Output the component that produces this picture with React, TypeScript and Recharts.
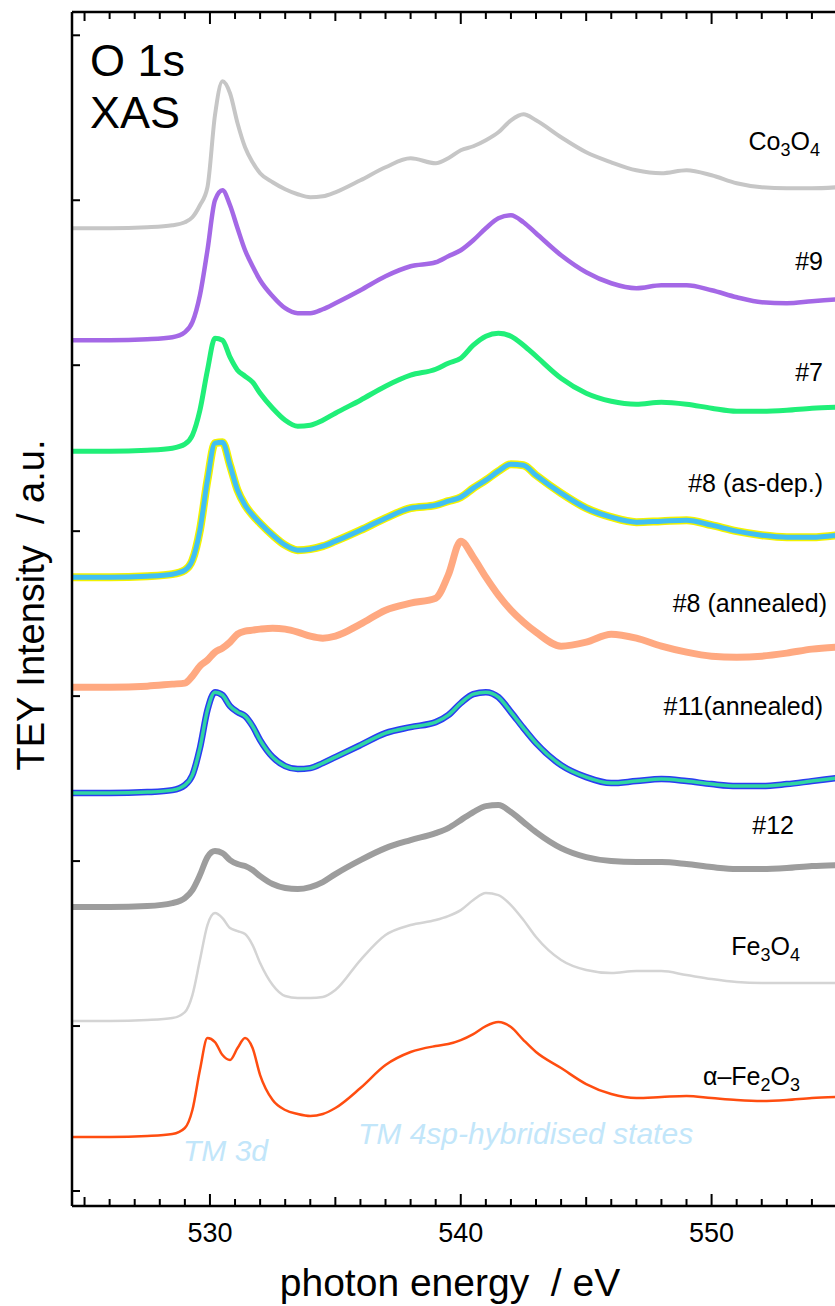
import React from "react";
import { LineChart, Line, XAxis, YAxis } from "recharts";

const FONT = "'Liberation Sans', Arial, sans-serif";

// photon energy grid (eV)
const energy = [
  524.5, 526, 527.5, 528.5, 529, 529.3, 529.6, 529.9, 530.2, 530.5,
  530.8, 531.1, 531.4, 531.7, 532, 532.5, 533, 533.5, 534, 534.5,
  535, 536, 537, 538, 539, 539.5, 540, 540.5, 541, 541.5,
  542, 542.5, 543, 544, 545, 546, 547, 548, 549, 550,
  551, 552, 553, 554, 555,
];

// TEY intensity above pre-edge (a.u.)
const co3o4 = [0, 0, 1, 3, 6, 11, 23, 41, 113, 147, 135, 105, 81, 66, 55, 46, 39, 34, 31, 32, 36, 48, 61, 70, 65, 70, 78, 82, 88, 96, 108, 114, 108, 91, 76, 66, 58, 55, 58, 53, 45, 41, 40, 40, 41];
const s9 = [0, 0, 1, 3, 8, 18, 45, 90, 140, 150, 135, 112, 90, 74, 60, 44, 32, 27, 27, 31, 37, 50, 64, 74, 78, 84, 90, 100, 112, 122, 125, 118, 107, 85, 68, 57, 52, 55, 55, 50, 43, 38, 37, 39, 41];
const s7 = [0, 0, 1, 3, 7, 16, 41, 81, 113, 111, 94, 81, 75, 69, 58, 43, 31, 25, 26, 31, 38, 51, 65, 76, 82, 88, 93, 106, 115, 118, 115, 106, 95, 73, 58, 50, 47, 49, 47, 43, 40, 40, 41, 43, 44];
const s8asdep = [0, 0, 1, 3, 7, 17, 47, 97, 134, 135, 112, 87, 72, 62, 54, 42, 32, 27, 28, 31, 36, 47, 59, 69, 72, 76, 80, 89, 97, 106, 113, 112, 102, 84, 69, 60, 55, 56, 57, 52, 46, 42, 40, 40, 42];
const s8ann = [0, 0, 1, 3, 4, 11, 21, 27, 35, 39, 45, 53, 56, 57, 58, 59, 58, 55, 51, 49, 51, 63, 77, 84, 89, 112, 146, 130, 110, 92, 77, 65, 55, 41, 45, 53, 49, 41, 35, 31, 30, 31, 34, 38, 40];
const s11 = [0, 0, 1, 3, 8, 18, 45, 83, 101, 98, 87, 81, 77, 67, 53, 36, 27, 24, 25, 30, 36, 48, 60, 66, 71, 78, 90, 99, 101, 96, 81, 65, 50, 28, 16, 10, 12, 14, 12, 9, 7, 7, 9, 12, 15];
const s12 = [0, 0, 1, 4, 9, 17, 32, 50, 56, 54, 47, 43, 41, 37, 31, 23, 19, 18, 20, 25, 33, 47, 59, 67, 74, 79, 87, 95, 101, 102, 95, 85, 75, 59, 50, 46, 45, 45, 43, 40, 38, 38, 39, 41, 42];
const fe3o4 = [0, 0, 1, 3, 9, 26, 61, 96, 108, 103, 93, 90, 87, 76, 58, 36, 25, 23, 23, 24, 31, 61, 86, 96, 101, 105, 111, 121, 128, 126, 116, 101, 84, 61, 51, 48, 50, 50, 46, 42, 39, 38, 38, 38, 38];
const fe2o3 = [0, 0, 1, 3, 9, 27, 67, 99, 95, 82, 77, 89, 99, 89, 62, 37, 27, 23, 21, 23, 29, 49, 72, 85, 91, 93, 97, 103, 111, 115, 110, 97, 85, 69, 53, 43, 39, 40, 41, 39, 37, 36, 37, 39, 40];

// vertical offsets of the stacked spectra (a.u.)
const offsets = [963, 851, 740, 614, 504, 398, 284, 170, 54];

const X_TICKS = [525, 526, 527, 528, 529, 530, 531, 532, 533, 534, 535, 536, 537, 538, 539, 540, 541, 542, 543, 544, 545, 546, 547, 548, 549, 550, 551, 552, 553, 554];
const Y_TICKS = [0, 165, 330, 495, 660, 826, 991, 1156];

const SERIES = [
  { key: "co3o4", values: co3o4, color: "#c6c6c6", width: 4 },
  { key: "s9", values: s9, color: "#a468e6", width: 4.5 },
  { key: "s7", values: s7, color: "#20ef78", width: 5 },
  { key: "s8asdep", values: s8asdep, color: "#40bff4", width: 5, under: "#f2f200" },
  { key: "s8ann", values: s8ann, color: "#ffa981", width: 7 },
  { key: "s11", values: s11, color: "#2fd6a2", width: 3.5, under: "#2b3cf2" },
  { key: "s12", values: s12, color: "#9d9d9d", width: 6 },
  { key: "fe3o4", values: fe3o4, color: "#d4d4d4", width: 2.5 },
  { key: "fe2o3", values: fe2o3, color: "#ff4d10", width: 2.5 },
];

const rows = energy.map((e, i) => {
  const r: any = { e };
  SERIES.forEach((s, j) => (r[s.key] = s.values[i] + offsets[j]));
  return r;
});

const tickLen = (v: number) => (v % 10 === 0 ? 12 : v % 5 === 0 ? 9 : 7);

const BottomTick = ({ x, y, payload }: any) => {
  const v = payload.value;
  return (
    <g>
      <line x1={x} x2={x} y1={y} y2={y - tickLen(v)} stroke="#000" strokeWidth={2} />
      {v % 10 === 0 && (
        <text x={x} y={y + 36} textAnchor="middle" fontSize={27} fontFamily={FONT} fill="#000">
          {v}
        </text>
      )}
    </g>
  );
};

const TopTick = ({ x, y, payload }: any) => (
  <line x1={x} x2={x} y1={y} y2={y + tickLen(payload.value)} stroke="#000" strokeWidth={2} />
);

const LeftTick = ({ x, y }: any) => <line x1={x} x2={x + 8} y1={y} y2={y} stroke="#000" strokeWidth={2} />;

export default function App() {
  return (
    <div style={{ position: "absolute", left: 0, top: 0, width: 835, height: 1306, overflow: "hidden", background: "#fff" }}>
      <LineChart width={840} height={1306} data={rows} margin={{ top: 11, right: 3, bottom: 99, left: 71 }}>
        <XAxis
          dataKey="e" type="number" domain={[524.5, 555]} allowDataOverflow ticks={X_TICKS} interval={0}
          height={1} tickSize={0} tickMargin={0} tickLine={false} tick={<BottomTick />}
          axisLine={{ stroke: "#000", strokeWidth: 2.5 }}
        />
        <XAxis
          xAxisId="top" orientation="top" dataKey="e" type="number" domain={[524.5, 555]} allowDataOverflow
          ticks={X_TICKS} interval={0} height={1} tickSize={0} tickMargin={0} tickLine={false} tick={<TopTick />}
          axisLine={{ stroke: "#000", strokeWidth: 2.5 }}
        />
        <YAxis
          type="number" domain={[-15, 1179.3]} allowDataOverflow ticks={Y_TICKS} interval={0}
          width={1} tickSize={0} tickMargin={0} tickLine={false} tick={<LeftTick />}
          axisLine={{ stroke: "#000", strokeWidth: 2.5 }}
        />
        {SERIES.flatMap((s) => {
          const out = [];
          if (s.under)
            out.push(
              <Line key={s.key + "u"} dataKey={s.key} type="monotone" stroke={s.under} strokeWidth={s.width + 3}
                dot={false} isAnimationActive={false} strokeLinejoin="round" />
            );
          out.push(
            <Line key={s.key} dataKey={s.key} type="monotone" stroke={s.color} strokeWidth={s.width}
              dot={false} isAnimationActive={false} strokeLinejoin="round" />
          );
          return out;
        })}
      </LineChart>
      <svg width={835} height={1306} style={{ position: "absolute", left: 0, top: 0, pointerEvents: "none" }} fontFamily={FONT}>
        <text x={90} y={76} fontSize={45}>O 1s</text>
        <text x={90} y={128} fontSize={45}>XAS</text>
        <g fontSize={25} textAnchor="end">
          <text x={820} y={150}>Co<tspan dy={6} fontSize={18}>3</tspan><tspan dy={-6}>O</tspan><tspan dy={6} fontSize={18}>4</tspan></text>
          <text x={823} y={270}>#9</text>
          <text x={823} y={381}>#7</text>
          <text x={823} y={492}>#8 (as-dep.)</text>
          <text x={827} y={612}>#8 (annealed)</text>
          <text x={823} y={715}>#11(annealed)</text>
          <text x={794} y={834}>#12</text>
          <text x={800} y={955}>Fe<tspan dy={6} fontSize={18}>3</tspan><tspan dy={-6}>O</tspan><tspan dy={6} fontSize={18}>4</tspan></text>
          <text x={800} y={1085}>{"\u03b1\u2013Fe"}<tspan dy={6} fontSize={18}>2</tspan><tspan dy={-6}>O</tspan><tspan dy={6} fontSize={18}>3</tspan></text>
        </g>
        <g fontSize={30} fontStyle="italic" fill="#c2e6fa">
          <text x={183} y={1161}>TM 3d</text>
          <text x={358} y={1144}>TM 4sp-hybridised states</text>
        </g>
        <text x={450} y={1296} fontSize={39} textAnchor="middle" style={{ whiteSpace: "pre" }}>photon energy  / eV</text>
        <text transform="translate(44 605) rotate(-90)" fontSize={38} textAnchor="middle" style={{ whiteSpace: "pre" }}>
          TEY Intensity  / a.u.
        </text>
      </svg>
    </div>
  );
}
